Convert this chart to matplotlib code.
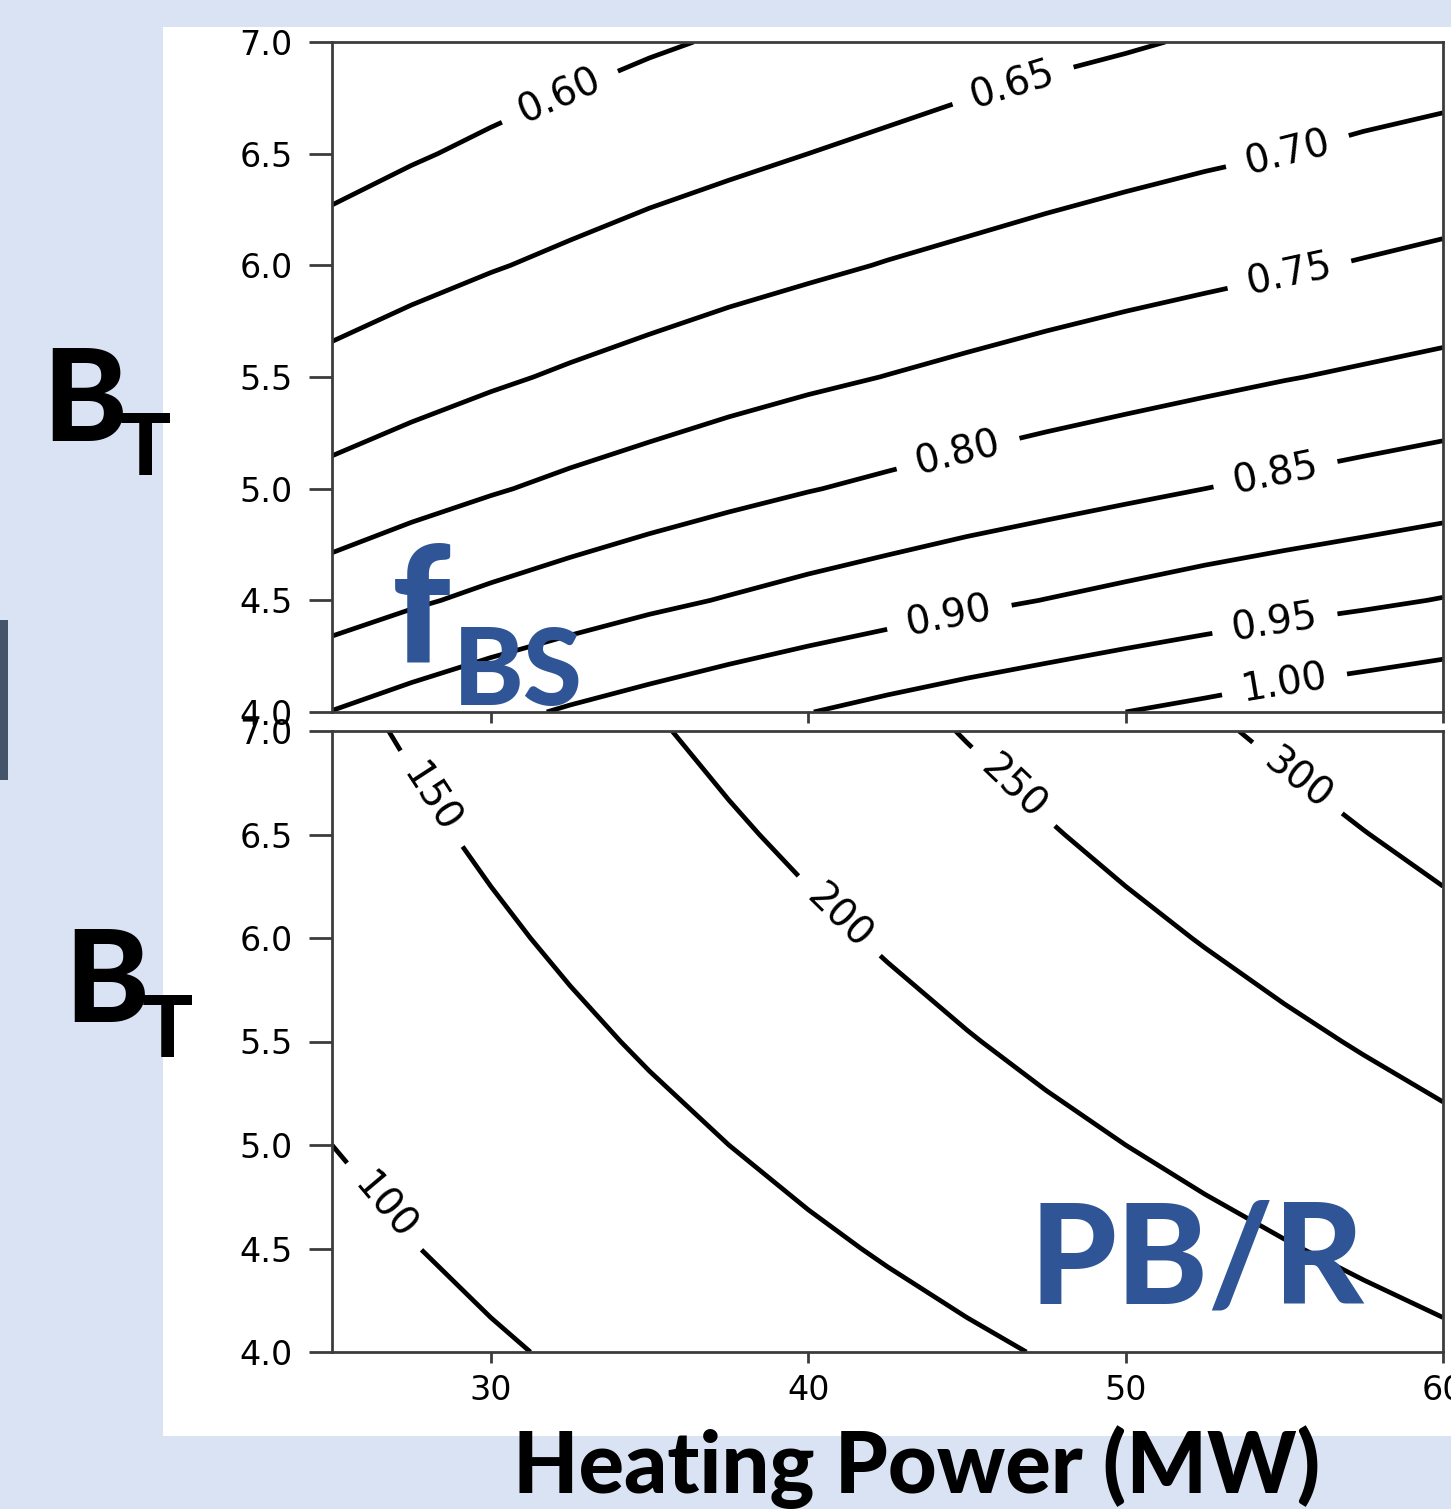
import matplotlib.pyplot as plt
from matplotlib.patches import Rectangle

power = [25, 27.5, 30, 32.5, 35, 37.5, 40, 42.5, 45, 47.5, 50, 52.5, 55, 57.5, 60]   # heating power (MW)
field = [4.0, 4.5, 5.0, 5.5, 6.0, 6.5, 7.0]                                          # toroidal field B_T

# bootstrap fraction at the grid nodes (rows = field, cols = power)
f_bs = [
    [0.851, 0.870, 0.888, 0.905, 0.920, 0.935, 0.949, 0.963, 0.976, 0.988, 1.000, 1.011, 1.023, 1.033, 1.043],
    [0.776, 0.794, 0.810, 0.825, 0.840, 0.853, 0.866, 0.878, 0.890, 0.901, 0.912, 0.923, 0.933, 0.942, 0.952],
    [0.715, 0.731, 0.746, 0.760, 0.773, 0.786, 0.798, 0.809, 0.820, 0.830, 0.840, 0.850, 0.859, 0.868, 0.877],
    [0.664, 0.679, 0.693, 0.706, 0.718, 0.730, 0.741, 0.751, 0.761, 0.771, 0.780, 0.789, 0.798, 0.806, 0.814],
    [0.620, 0.634, 0.647, 0.659, 0.671, 0.682, 0.692, 0.702, 0.711, 0.720, 0.729, 0.737, 0.745, 0.753, 0.761],
    [0.583, 0.596, 0.608, 0.619, 0.630, 0.640, 0.650, 0.659, 0.668, 0.677, 0.685, 0.693, 0.700, 0.708, 0.715],
    [0.550, 0.562, 0.574, 0.585, 0.595, 0.604, 0.614, 0.622, 0.631, 0.639, 0.646, 0.654, 0.661, 0.668, 0.674],
]
fbs_levels = [0.60, 0.65, 0.70, 0.75, 0.80, 0.85, 0.90, 0.95, 1.00]
fbs_label_pos = [(32.1, 6.78), (46.4, 6.83), (55.0, 6.56), (55.1, 6.00), (44.7, 5.17),
                 (54.7, 5.08), (44.4, 4.46), (54.7, 4.40), (55.0, 4.13)]

# PB/R at the grid nodes
pbr = [
    [80, 88, 96, 104, 112, 120, 128, 136, 144, 152, 160, 168, 176, 184, 192],
    [90, 99, 108, 117, 126, 135, 144, 153, 162, 171, 180, 189, 198, 207, 216],
    [100, 110, 120, 130, 140, 150, 160, 170, 180, 190, 200, 210, 220, 230, 240],
    [110, 121, 132, 143, 154, 165, 176, 187, 198, 209, 220, 231, 242, 253, 264],
    [120, 132, 144, 156, 168, 180, 192, 204, 216, 228, 240, 252, 264, 276, 288],
    [130, 143, 156, 169, 182, 195, 208, 221, 234, 247, 260, 273, 286, 299, 312],
    [140, 154, 168, 182, 196, 210, 224, 238, 252, 266, 280, 294, 308, 322, 336],
]
pbr_levels = [100, 150, 200, 250, 300]
pbr_label_pos = [(26.7, 4.71), (28.1, 6.67), (41.0, 6.11), (46.4, 6.72), (55.5, 6.79)]

y_ticks = [4.0, 4.5, 5.0, 5.5, 6.0, 6.5, 7.0]
x_ticks = [30, 40, 50, 60]

W, H = 1451, 1509
blue_bg = '#dae3f3'
blue_txt = '#2f5597'

fig = plt.figure(figsize=(W / 100, H / 100), dpi=100, facecolor=blue_bg)


def px(x, y):
    # pixel position (from top-left) -> figure fraction
    return x / W, 1 - y / H


# white slide panel behind the plots, and the dark bar at the left edge
fig.add_artist(Rectangle(px(163, 1436), (W - 163) / W, (1436 - 27) / H,
                         transform=fig.transFigure, facecolor='white', edgecolor='none', zorder=-5))
fig.add_artist(Rectangle(px(0, 780), 8 / W, 160 / H,
                         transform=fig.transFigure, facecolor='#44546a', edgecolor='none', zorder=-4))

ax1 = fig.add_axes([332 / W, 1 - 712 / H, 1111 / W, 670 / H])
ax2 = fig.add_axes([332 / W, 1 - 1352 / H, 1111 / W, 621 / H])

cs1 = ax1.contour(power, field, f_bs, levels=fbs_levels, colors='black', linewidths=3.4)
ax1.clabel(cs1, fmt='%.2f', fontsize=28, inline=True, inline_spacing=20, manual=fbs_label_pos)

cs2 = ax2.contour(power, field, pbr, levels=pbr_levels, colors='black', linewidths=3.4)
ax2.clabel(cs2, fmt='%d', fontsize=28, inline=True, inline_spacing=20, manual=pbr_label_pos)

for ax in (ax1, ax2):
    ax.set_xlim(25, 60)
    ax.set_ylim(4, 7)
    ax.set_yticks(y_ticks)
    ax.set_yticklabels(['%.1f' % v for v in y_ticks])
    ax.set_xticks(x_ticks)
    for s in ax.spines.values():
        s.set_linewidth(2)
        s.set_color('#3c3c3c')
    ax.tick_params(axis='y', length=16.5, width=2, pad=12, labelsize=24, color='#3c3c3c')
    ax.tick_params(axis='x', length=8, width=2, pad=8, labelsize=24, color='#3c3c3c')

ax1.tick_params(axis='x', labelbottom=False)
ax2.set_xticklabels([str(v) for v in x_ticks])

# slide annotations
heavy = dict(family='Lato', fontweight='black')
fig.text(*px(42, 441), 'B', fontsize=92, color='black', ha='left', va='baseline', **heavy)
fig.text(*px(120, 475), 'T', fontsize=61, color='black', ha='left', va='baseline', **heavy)
fig.text(*px(64, 1022), 'B', fontsize=92, color='black', ha='left', va='baseline', **heavy)
fig.text(*px(142, 1057), 'T', fontsize=61, color='black', ha='left', va='baseline', **heavy)

fig.text(*px(392, 662), 'f', fontsize=117, color=blue_txt, ha='left', va='baseline', **heavy)
fig.text(*px(453, 705), 'BS', fontsize=77, color=blue_txt, ha='left', va='baseline', **heavy)
fig.text(*px(1030, 1303), 'PB/R', fontsize=100, color=blue_txt, ha='left', va='baseline', **heavy)

fig.text(*px(917, 1493), 'Heating Power (MW)', fontsize=61, color='black',
         ha='center', va='baseline', **heavy)

fig.savefig('out.png', dpi=100, facecolor=blue_bg)
